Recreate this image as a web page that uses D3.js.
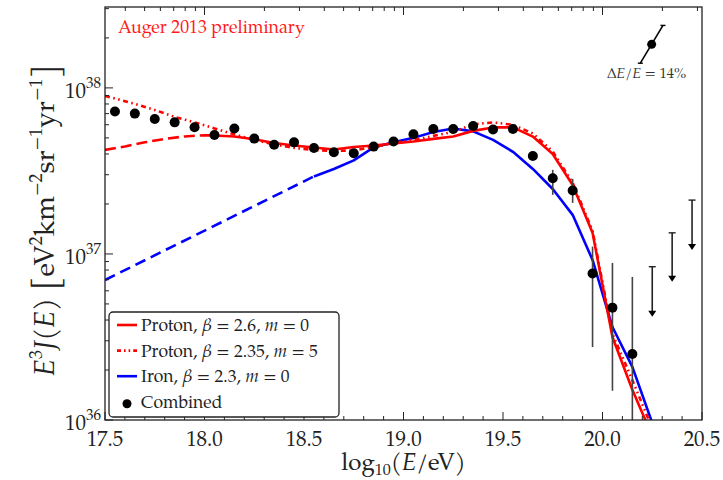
<!DOCTYPE html>
<html>
<head>
<meta charset="utf-8">
<script src="https://cdn.jsdelivr.net/npm/d3@7"></script>
<style>
  body { margin: 0; background: #fff; }
  svg { font-family: "TeX Gyre Pagella", "Palatino Linotype", Palatino, "Liberation Serif", serif; }
</style>
</head>
<body>
<div id="chart"></div>
<script>
// combined spectrum (bin centres in log10(E/eV))
const binLgE = [17.55, 17.65, 17.75, 17.85, 17.95, 18.05, 18.15, 18.25, 18.35, 18.45, 18.55, 18.65, 18.75,
  18.85, 18.95, 19.05, 19.15, 19.25, 19.35, 19.45, 19.55, 19.65, 19.75, 19.85, 19.95, 20.05, 20.15];
const combinedJ = [7.2e37, 7.0e37, 6.5e37, 6.2e37, 5.8e37, 5.2e37, 5.7e37, 4.95e37, 4.55e37, 4.7e37, 4.35e37,
  4.1e37, 4.04e37, 4.43e37, 4.75e37, 5.26e37, 5.66e37, 5.66e37, 5.9e37, 5.62e37, 5.66e37, 3.89e37, 2.86e37,
  2.41e37, 7.63e36, 4.75e36, 2.5e36];

// visible error bars
const errLgE = [19.75, 19.85, 19.95, 20.05, 20.15];
const errUp = [3.21e37, 2.83e37, 1.107e37, 8.83e36, 7.27e36];
const errLow = [2.27e37, 2.03e37, 2.75e36, 1.5e36, 5e35];

// upper limits
const limLgE = [20.25, 20.35, 20.45];
const limTop = [8.38e36, 1.34e37, 2.11e37];
const limTip = [4.19e36, 6.81e36, 1.057e37];

// proton, beta = 2.6, m = 0
const protonLowLgE = [17.5, 17.6, 17.7, 17.8, 17.9, 18.0, 18.05];
const protonLowJ = [4.23e37, 4.44e37, 4.7e37, 4.93e37, 5.1e37, 5.19e37, 5.17e37];
const fitLgE = [18.05, 18.15, 18.25, 18.35, 18.45, 18.55, 18.65, 18.75, 18.85, 18.95, 19.05, 19.15,
  19.25, 19.35, 19.45, 19.55, 19.65, 19.75, 19.85, 19.95, 20.05, 20.15, 20.25];
const protonJ = [5.17e37, 5.1e37, 4.9e37, 4.66e37, 4.5e37, 4.38e37, 4.26e37, 4.41e37, 4.5e37, 4.63e37,
  4.76e37, 4.93e37, 5.1e37, 5.51e37, 5.78e37, 5.78e37, 5.09e37, 4.0e37, 2.6e37, 1.34e37, 3.16e36,
  1.52e36, 8.0e35];

// proton, beta = 2.35, m = 5
const protonM5LgE = [17.5, 17.55, 17.65, 17.75, 17.85, 17.95, 18.05, 18.15, 18.25, 18.35, 18.45, 18.55,
  18.65, 18.75, 18.85, 18.95, 19.05, 19.15, 19.25, 19.35, 19.45, 19.55, 19.65, 19.75, 19.85, 19.95,
  20.05, 20.15, 20.25];
const protonM5J = [8.95e37, 8.64e37, 8.01e37, 7.37e37, 6.69e37, 6.2e37, 5.7e37, 5.25e37, 4.86e37, 4.57e37,
  4.35e37, 4.23e37, 4.17e37, 4.2e37, 4.41e37, 4.66e37, 4.86e37, 5.14e37, 5.43e37, 6.03e37, 6.2e37,
  5.99e37, 5.32e37, 4.14e37, 2.68e37, 1.38e37, 3.3e36, 1.74e36, 8.9e35];

// iron, beta = 2.3, m = 0
const ironLowLgE = [17.5, 18.55];
const ironLowJ = [6.97e36, 2.93e37];
const ironLgE = [18.55, 18.65, 18.75, 18.85, 18.95, 19.05, 19.15, 19.25, 19.35, 19.45, 19.55, 19.65,
  19.75, 19.85, 19.95, 20.05, 20.15, 20.25];
const ironJ = [2.93e37, 3.25e37, 3.66e37, 4.38e37, 4.7e37, 5.0e37, 5.43e37, 5.7e37, 5.47e37, 4.86e37,
  4.12e37, 3.25e37, 2.46e37, 1.72e37, 9.2e36, 3.63e36, 2.09e36, 9.6e35];

const xTicks = [17.5, 18.0, 18.5, 19.0, 19.5, 20.0, 20.5];
const yDecades = [36, 37, 38];
const scaleShift = 0.14; // energy scale uncertainty
const scalePoint = [20.247, 1.83e38];

const W = 723, H = 480;
const margin = { top: 7, right: 21, bottom: 60, left: 105 };

const svg = d3.select("#chart").append("svg")
  .attr("width", W).attr("height", H);

const x = d3.scaleLinear().domain([17.5, 20.5]).range([margin.left, W - margin.right]);
const y = d3.scaleLog().domain([1e36, 3.07e38]).range([H - margin.bottom, margin.top]);

svg.append("clipPath").attr("id", "plot-clip")
  .append("rect")
  .attr("x", x(17.5)).attr("y", y(3.07e38))
  .attr("width", x(20.5) - x(17.5)).attr("height", y(1e36) - y(3.07e38));

const plot = svg.append("g").attr("clip-path", "url(#plot-clip)");

const line = d3.line().x(d => x(d[0])).y(d => y(d[1]));
const pairs = (xs, ys) => xs.map((v, i) => [v, ys[i]]);

function drawCurve(xs, ys, color, dash) {
  plot.append("path")
    .datum(pairs(xs, ys))
    .attr("d", line)
    .attr("fill", "none")
    .attr("stroke", color)
    .attr("stroke-width", 2.6)
    .attr("stroke-dasharray", dash)
    .attr("stroke-linejoin", "round");
}

drawCurve(ironLowLgE, ironLowJ, "#0000ff", "11,6");
drawCurve(ironLgE, ironJ, "#0000ff", null);
drawCurve(protonLowLgE, protonLowJ, "#ff0000", "11,5");
drawCurve(protonM5LgE, protonM5J, "#ff0000", "5,3.5,1.6,3.5,1.6,3.5");
drawCurve(fitLgE, protonJ, "#ff0000", null);

// error bars
plot.selectAll(".err")
  .data(errLgE)
  .enter().append("line")
  .attr("x1", d => x(d)).attr("x2", d => x(d))
  .attr("y1", (d, i) => y(errUp[i])).attr("y2", (d, i) => y(errLow[i]))
  .attr("stroke", "#444").attr("stroke-width", 1.6);

// upper limits
limLgE.forEach((lg, i) => {
  const cx = x(lg), yt = y(limTop[i]), yb = y(limTip[i]);
  plot.append("line").attr("x1", cx - 3.5).attr("x2", cx + 3.5).attr("y1", yt).attr("y2", yt)
    .attr("stroke", "#222").attr("stroke-width", 1.4);
  plot.append("line").attr("x1", cx).attr("x2", cx).attr("y1", yt).attr("y2", yb - 5)
    .attr("stroke", "#222").attr("stroke-width", 1.6);
  plot.append("path")
    .attr("d", `M${cx - 4},${yb - 6}L${cx + 4},${yb - 6}L${cx},${yb}Z`)
    .attr("fill", "#000");
});

// data points
plot.selectAll(".pt")
  .data(binLgE)
  .enter().append("circle")
  .attr("cx", d => x(d))
  .attr("cy", (d, i) => y(combinedJ[i]))
  .attr("r", 5)
  .attr("fill", "#000");

// energy-scale marker
const dlg = Math.log10(1 + scaleShift);
const sx0 = scalePoint[0] - dlg, sx1 = scalePoint[0] + dlg;
const sy0 = scalePoint[1] / Math.pow(10, 2 * dlg), sy1 = scalePoint[1] * Math.pow(10, 2 * dlg);
svg.append("line")
  .attr("x1", x(sx0)).attr("y1", y(sy0)).attr("x2", x(sx1)).attr("y2", y(sy1))
  .attr("stroke", "#000").attr("stroke-width", 1.6);
[[sx0, sy0], [sx1, sy1]].forEach(p => {
  svg.append("line")
    .attr("x1", x(p[0]) - 2.5).attr("x2", x(p[0]) + 2.5)
    .attr("y1", y(p[1])).attr("y2", y(p[1]))
    .attr("stroke", "#000").attr("stroke-width", 1.4);
});
svg.append("circle").attr("cx", x(scalePoint[0])).attr("cy", y(scalePoint[1])).attr("r", 4.5).attr("fill", "#000");
const sLabel = svg.append("text")
  .attr("x", x(scalePoint[0]) - 5).attr("y", 78)
  .attr("text-anchor", "middle").attr("font-size", 14.5).attr("fill", "#333");
sLabel.append("tspan").text("Δ");
sLabel.append("tspan").attr("font-style", "italic").text("E");
sLabel.append("tspan").text("/");
sLabel.append("tspan").attr("font-style", "italic").text("E");
sLabel.append("tspan").text(" = 14%");

// frame
svg.append("rect")
  .attr("x", x(17.5)).attr("y", y(3.07e38))
  .attr("width", x(20.5) - x(17.5)).attr("height", y(1e36) - y(3.07e38))
  .attr("fill", "none").attr("stroke", "#222").attr("stroke-width", 1.3);

// bottom ticks (inward)
const yB = y(1e36), yT = y(3.07e38);
d3.range(0, 31).forEach(k => {
  const v = 17.5 + k * 0.1;
  const major = k % 5 === 0;
  svg.append("line").attr("x1", x(v)).attr("x2", x(v))
    .attr("y1", yB).attr("y2", yB - (major ? 8 : 4))
    .attr("stroke", "#222").attr("stroke-width", 1);
});
svg.selectAll(".xlab")
  .data(xTicks)
  .enter().append("text")
  .attr("x", d => x(d)).attr("y", 446)
  .attr("text-anchor", "middle").attr("font-size", 21).attr("fill", "#222")
  .text(d => d.toFixed(1));

// top ticks: log energy positions
for (let dec = 17; dec <= 20; dec++) {
  for (let m = 1; m <= 9; m++) {
    const v = dec + Math.log10(m);
    if (v < 17.5 || v > 20.5) continue;
    svg.append("line").attr("x1", x(v)).attr("x2", x(v))
      .attr("y1", yT).attr("y2", yT + (m === 1 ? 8 : 4))
      .attr("stroke", "#222").attr("stroke-width", 1);
  }
}

// left ticks
const xL = x(17.5);
for (let dec = 36; dec <= 38; dec++) {
  for (let m = 1; m <= 9; m++) {
    const v = m * Math.pow(10, dec);
    if (v > 3.07e38) continue;
    svg.append("line").attr("x1", xL).attr("x2", xL + (m === 1 ? 8 : 4))
      .attr("y1", y(v)).attr("y2", y(v))
      .attr("stroke", "#222").attr("stroke-width", 1);
  }
}
yDecades.forEach(d => {
  const t = svg.append("text")
    .attr("x", xL - 4).attr("y", y(Math.pow(10, d)) + 10)
    .attr("text-anchor", "end").attr("fill", "#222");
  t.append("tspan").attr("font-size", 21).text("10");
  t.append("tspan").attr("font-size", 15).attr("dy", -10).text(d);
});

// axis titles
const xt = svg.append("text")
  .attr("x", (x(17.5) + x(20.5)) / 2).attr("y", 470)
  .attr("text-anchor", "middle").attr("font-size", 24).attr("fill", "#222");
xt.append("tspan").text("log");
xt.append("tspan").attr("font-size", 16).attr("dy", 5).text("10");
xt.append("tspan").attr("dy", -5).text("(");
xt.append("tspan").attr("font-style", "italic").text("E");
xt.append("tspan").text("/eV)");

const yt = svg.append("text")
  .attr("transform", "translate(54,220) rotate(-90)")
  .attr("text-anchor", "middle").attr("font-size", 28).attr("fill", "#222");
yt.append("tspan").attr("font-style", "italic").text("E");
yt.append("tspan").attr("font-size", 18).attr("dy", -12).text("3");
yt.append("tspan").attr("font-style", "italic").attr("dy", 12).text("J");
yt.append("tspan").text("(");
yt.append("tspan").attr("font-style", "italic").text("E");
yt.append("tspan").text(") ");
yt.append("tspan").attr("font-size", 34).attr("dy", 2).text("[");
yt.append("tspan").attr("dy", -2).text("eV");
yt.append("tspan").attr("font-size", 18).attr("dy", -12).text("2");
yt.append("tspan").attr("dy", 12).text("km");
yt.append("tspan").attr("font-size", 18).attr("dy", -12).text("−2");
yt.append("tspan").attr("dy", 12).text("sr");
yt.append("tspan").attr("font-size", 18).attr("dy", -12).text("−1");
yt.append("tspan").attr("dy", 12).text("yr");
yt.append("tspan").attr("font-size", 18).attr("dy", -12).text("−1");
yt.append("tspan").attr("font-size", 34).attr("dy", 14).text("]");

// experiment label
svg.append("text")
  .attr("x", 118).attr("y", 33)
  .attr("font-size", 17.8).attr("fill", "#ff1a1a")
  .text("Auger 2013 preliminary");

// legend
const legend = svg.append("g");
legend.append("rect")
  .attr("x", 109).attr("y", 312).attr("width", 230).attr("height", 105)
  .attr("rx", 4).attr("fill", "#fff").attr("stroke", "#222").attr("stroke-width", 1.3);

const legendRows = [
  { color: "#ff0000", dash: null, parts: [["Proton, ", 0], ["β", 1], [" = 2.6, ", 0], ["m", 1], [" = 0", 0]] },
  { color: "#ff0000", dash: "4,3,1.6,3,1.6,3", parts: [["Proton, ", 0], ["β", 1], [" = 2.35, ", 0], ["m", 1], [" = 5", 0]] },
  { color: "#0000ff", dash: null, parts: [["Iron, ", 0], ["β", 1], [" = 2.3, ", 0], ["m", 1], [" = 0", 0]] },
  { dot: true, parts: [["Combined", 0]] }
];
legendRows.forEach((r, i) => {
  const cy = 325 + i * 25.6;
  if (r.dot) {
    legend.append("circle").attr("cx", 127).attr("cy", cy + 2).attr("r", 4.5).attr("fill", "#000");
  } else {
    legend.append("line").attr("x1", 117).attr("x2", 137).attr("y1", cy).attr("y2", cy)
      .attr("stroke", r.color).attr("stroke-width", 2.6).attr("stroke-dasharray", r.dash);
  }
  const t = legend.append("text").attr("x", 141).attr("y", cy + 6)
    .attr("font-size", 17.5).attr("fill", "#222");
  r.parts.forEach(p => {
    t.append("tspan").attr("font-style", p[1] ? "italic" : null).text(p[0]);
  });
});
</script>
</body>
</html>
